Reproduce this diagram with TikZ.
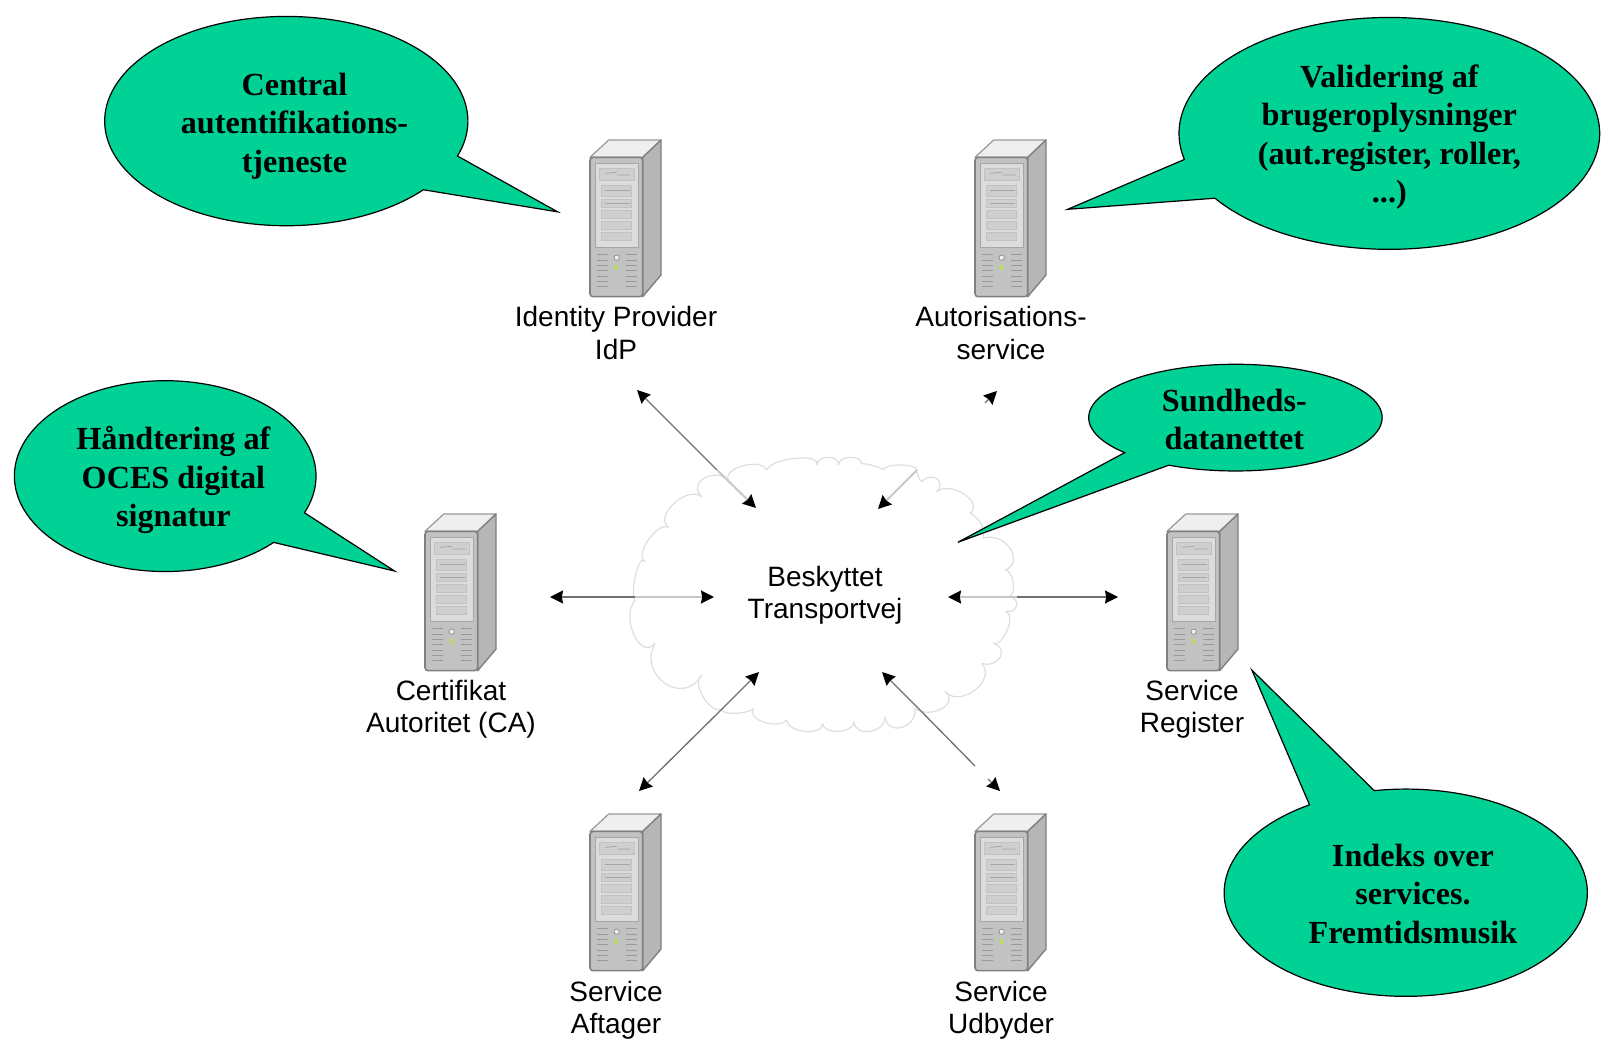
\documentclass[tikz,border=0pt]{standalone}
\usepackage{fontspec}
\setmainfont{Liberation Sans}
\newfontfamily\calloutfont{Liberation Serif}[Scale=1.0]
\usetikzlibrary{arrows.meta}
\definecolor{calloutgreen}{HTML}{00D296}
\definecolor{srvdark}{HTML}{808080}
\definecolor{srvmid}{HTML}{C2C2C2}
\definecolor{srvside}{HTML}{B6B6B6}
\definecolor{srvlight}{HTML}{DCDCDC}
\definecolor{srvtop}{HTML}{EFEFEF}
\definecolor{srvbay}{HTML}{CFCFCF}
\definecolor{cloudline}{HTML}{DEDEDE}
\definecolor{connline}{HTML}{707070}
\definecolor{connfade}{HTML}{C8C8C8}
\tikzset{
  srvlabel/.style={font=\fontsize{14}{16.2}\selectfont,align=center,text=black,inner sep=0pt},
  callouttext/.style={font=\calloutfont\bfseries\fontsize{16.1}{19.2}\selectfont,align=center,text=black,inner sep=0pt},
  calloutshape/.style={draw=black,line width=0.6pt,fill=calloutgreen,line join=miter},
  conn/.style={draw=connline,line width=0.65pt},
  connf/.style={draw=connfade,line width=1pt},
  tipstart/.style={{Stealth[length=6.5pt,width=6.5pt,inset=0.6pt,black]}-},
  tipend/.style={-{Stealth[length=6.5pt,width=6.5pt,inset=0.6pt,black]}},
  pics/serverbox/.style={code={
    \begin{scope}[x=0.16667pt,y=-0.16667pt]
      \fill[srvtop,draw=srvdark!80,line width=0.6pt,line join=round] (90,112)--(146,60)--(303,60)--(248,112)--cycle;
      \fill[srvside,draw=srvdark,line width=0.7pt,line join=round] (248,112)--(303,60)--(303,465)--(248,530)--cycle;
      \fill[srvmid,draw=srvdark,line width=0.8pt,rounded corners=1.5pt] (90,112) rectangle (248,530);
      \fill[srvlight,draw=srvdark!70,line width=0.5pt] (105,130) rectangle (235,382);
      \fill[srvbay,draw=srvmid,line width=0.3pt] (118,145) rectangle (222,182);
      \fill[srvbay,draw=srvmid,line width=0.3pt] (125,195) rectangle (215,228);
      \fill[srvbay,draw=srvmid,line width=0.3pt] (125,238) rectangle (215,262);
      \fill[srvbay,draw=srvmid,line width=0.3pt] (125,270) rectangle (215,295);
      \fill[srvbay,draw=srvmid,line width=0.3pt] (125,303) rectangle (215,327);
      \fill[srvbay,draw=srvmid,line width=0.3pt] (125,337) rectangle (215,360);
      \draw[srvdark!70,line width=0.4pt] (135,160)--(170,157) (172,165)--(212,165);
      \draw[srvdark!70,line width=0.4pt] (135,210)--(210,210) (135,250)--(210,250);
      \foreach \vy in {403,420,436,452,468,484,500}{
        \draw[srvdark!80,line width=0.5pt] (110,\vy)--(145,\vy) (198,\vy)--(232,\vy);
      }
      \fill[srvtop,draw=srvdark,line width=0.3pt] (170,413) circle (8);
      \fill[yellow!60!green!70] (166,435) rectangle (174,449);
    \end{scope}
  }}
}
% #1 cx, #2 cy, #3 rx, #4 ry, #5 start, #6 end, #7 tip x, #8 tip y (coordinates of the shrunken view)
\newcommand{\bubbleshape}[8]{%
  \draw[calloutshape] plot[domain=#5:#6,samples=160,smooth] ({(#1)+(#3)*cos(\x)},{(#2)+(#4)*sin(\x)}) -- (#7,#8) -- cycle;
}
\begin{document}
\begin{tikzpicture}[x=0.5pt,y=-0.5pt]
\useasboundingbox (0,0) rectangle (1609,1048);
\fill[white] (0,0) rectangle (1609,1048);

% cloud
\begin{scope}[shift={(600,370)},x=0.16667pt,y=-0.16667pt]
\foreach \ax/\ay/\vx/\vy/\bx/\by in {
 135/575/145/510/205/472, 205/472/222/400/305/380, 305/380/312/325/385/330,
 385/330/430/287/500/300, 500/300/585/265/650/285, 650/285/685/262/715/285,
 715/285/750/262/785/282, 785/282/820/287/850/300, 850/300/900/285/950/300,
 950/300/955/320/965/335, 965/335/1010/326/1010/365, 1010/365/1092/372/1110/430,
 1110/430/1135/450/1145/470, 1145/470/1150/490/1150/505, 1150/505/1230/535/1215/600,
 1215/600/1240/640/1225/680, 1225/680/1250/705/1218/725, 1218/725/1222/780/1180/820,
 1180/820/1200/862/1145/880, 1145/880/1125/960/1035/965, 1035/965/1025/1016/945/1015,
 945/1015/905/1072/855/1040, 855/1040/810/1084/762/1055, 762/1055/715/1084/668/1060,
 668/1060/615/1084/560/1050, 560/1050/490/1056/462/1015, 462/1015/400/1030/370/1015,
 370/1015/312/985/305/915, 305/915/195/940/165/820, 165/820/102/795/105/690,
 105/690/108/610/135/575}{
  \draw[cloudline,line width=0.6pt]
    (\ax,\ay) .. controls ({\ax+(4/3)*(\vx-(\ax+\bx)/2)},{\ay+(4/3)*(\vy-(\ay+\by)/2)})
      and ({\bx+(4/3)*(\vx-(\ax+\bx)/2)},{\by+(4/3)*(\vy-(\ay+\by)/2)}) .. (\bx,\by);
}
\end{scope}

\node[srvlabel] (cloudtext) at (825,595) {Beskyttet\\Transportvej};

% servers
\pic at (560,120) {serverbox};
\pic at (945,120) {serverbox};
\pic at (395,494) {serverbox};
\pic at (1137,494) {serverbox};
\pic at (560,794) {serverbox};
\pic at (945,794) {serverbox};

\node[srvlabel] (idp) at (616,333) {Identity Provider\\IdP};
\node[srvlabel] (autz) at (1001,333) {Autorisations-\\service};
\node[srvlabel] (ca) at (451,709) {Certifikat\\Autoritet (CA)};
\node[srvlabel] (reg) at (1192,709) {Service\\Register};
\node[srvlabel] (aft) at (616,1010) {Service\\Aftager};
\node[srvlabel] (udb) at (1001,1010) {Service\\Udbyder};

% connector end points
\coordinate (idpA) at (637,390);  \coordinate (idpM) at (717,470);  \coordinate (idpB) at (756,508);
\coordinate (autA) at (997,391);  \coordinate (autH) at (985,403);
\coordinate (autM) at (917,470);  \coordinate (autB) at (878,509);
\coordinate (caA) at (550,597);   \coordinate (caM) at (635,597);   \coordinate (caB) at (714,597);
\coordinate (regA) at (1118,597); \coordinate (regM) at (1017,597); \coordinate (regB) at (948,597);
\coordinate (aftA) at (639,791);  \coordinate (aftM) at (723,708);  \coordinate (aftB) at (759,672);
\coordinate (udbA) at (1000,791); \coordinate (udbH) at (988,779);  \coordinate (udbL) at (975,766);
\coordinate (udbM) at (918,708);  \coordinate (udbB) at (882,672);

\draw[conn,tipstart] (idpA) -- (idpM);
\draw[connf,tipend] (idpM) -- (idpB);
\draw[conn,tipstart] (autA) -- (autH);
\draw[connf,tipend] (autM) -- (autB);
\draw[conn,tipstart] (caA) -- (caM);
\draw[connf,tipend] (caM) -- (caB);
\draw[conn,tipstart] (regA) -- (regM);
\draw[connf,tipend] (regM) -- (regB);
\draw[conn,tipstart] (aftA) -- (aftM);
\draw[conn,tipend] (aftM) -- (aftB);
\draw[conn,tipstart] (udbA) -- (udbH);
\draw[conn] (udbL) -- (udbM);
\draw[conn,tipend] (udbM) -- (udbB);

% callouts
\begin{scope}[x=0.51305pt,y=-0.51305pt]
\bubbleshape{279}{118}{177}{102}{41}{379.5}{543.5}{206.5}
\bubbleshape{1354}{130}{205}{113}{167}{506}{1040.5}{204}
\bubbleshape{161}{464}{147}{93}{44}{382.6}{384.5}{556.5}
\bubbleshape{1204}{407}{143}{52}{139}{477}{933.5}{528.5}
\bubbleshape{1370}{870}{177}{101}{260}{598}{1220}{653}
\node[callouttext] (t1) at (287,122.7) {Central\\autentifikations-\\tjeneste};
\node[callouttext] (t2) at (1354,133.7) {Validering af\\brugeroplysninger\\(aut.register, roller,\\...)};
\node[callouttext] (t3) at (169,467.7) {Håndtering af\\OCES digital\\signatur};
\node[callouttext] (t4) at (1203,409) {Sundheds-\\datanettet};
\node[callouttext] (t5) at (1377,871) {Indeks over\\services.\\Fremtidsmusik};
\end{scope}
\end{tikzpicture}
\end{document}
